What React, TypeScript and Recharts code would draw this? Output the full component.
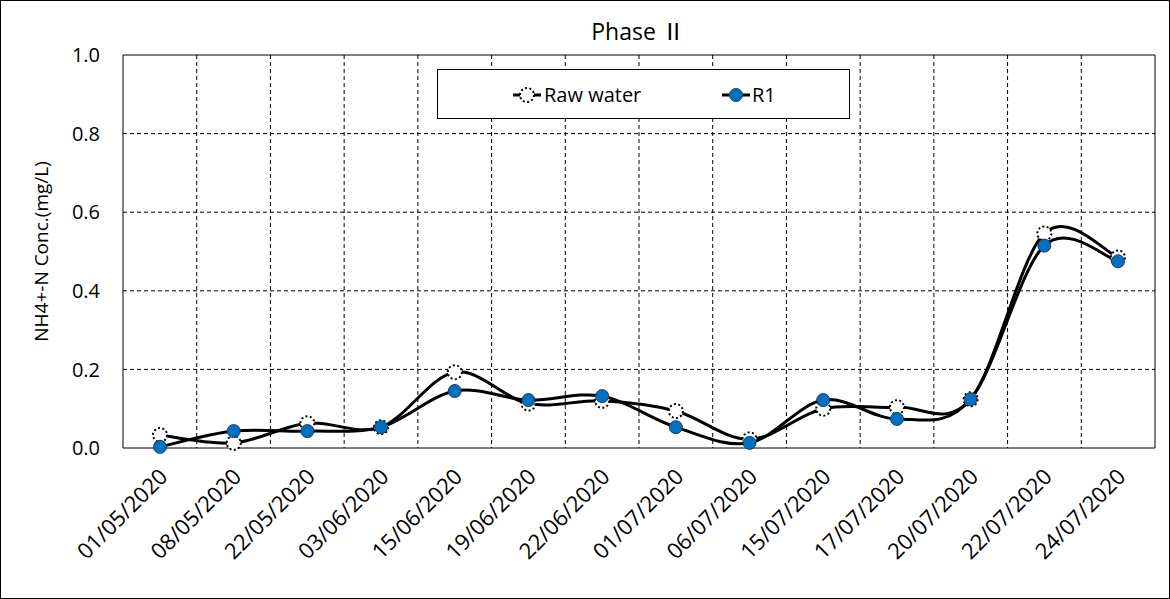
import React from 'react'
import {
  LineChart, Line, XAxis, YAxis, CartesianGrid, Legend,
} from 'recharts'

// ==================== Data ====================

const DATES = [
  '01/05/2020', '08/05/2020', '22/05/2020', '03/06/2020', '15/06/2020',
  '19/06/2020', '22/06/2020', '01/07/2020', '06/07/2020', '15/07/2020',
  '17/07/2020', '20/07/2020', '22/07/2020', '24/07/2020',
]
const RAW_WATER = [0.033, 0.013, 0.063, 0.053, 0.193, 0.113, 0.12, 0.094, 0.022, 0.1, 0.104, 0.124, 0.546, 0.485]
const R1 = [0.003, 0.043, 0.043, 0.053, 0.145, 0.122, 0.132, 0.053, 0.013, 0.122, 0.074, 0.124, 0.515, 0.475]
const Y_TICKS = [0, 0.2, 0.4, 0.6, 0.8, 1.0]

const chartData = DATES.map((date, i) => ({ date, raw: RAW_WATER[i], r1: R1[i] }))

const FONT = '"Open Sans", "Noto Sans CJK SC", sans-serif'
const BLUE = '#0070C0'

// ==================== Excel-like smoothing ====================

// Catmull-Rom style bezier, similar to Excel's "smoothed line".
function excelSmooth(context: any) {
  let pts: number[][] = []
  return {
    areaStart() {},
    areaEnd() {},
    lineStart() { pts = [] },
    point(x: number, y: number) { pts.push([+x, +y]) },
    lineEnd() {
      if (pts.length === 0) return
      context.moveTo(pts[0][0], pts[0][1])
      for (let i = 0; i < pts.length - 1; i++) {
        const p0 = pts[i - 1] ?? pts[i]
        const p1 = pts[i]
        const p2 = pts[i + 1]
        const p3 = pts[i + 2] ?? pts[i + 1]
        context.bezierCurveTo(
          p1[0] + (p2[0] - p0[0]) / 6, p1[1] + (p2[1] - p0[1]) / 6,
          p2[0] - (p3[0] - p1[0]) / 6, p2[1] - (p3[1] - p1[1]) / 6,
          p2[0], p2[1],
        )
      }
    },
  }
}

// ==================== Markers ====================

function RawDot({ cx, cy }: any) {
  if (cx == null || cy == null) return null
  return <circle cx={cx} cy={cy} r={7} fill="#fff" stroke="#000" strokeWidth={2} strokeDasharray="2 2.4" />
}

function R1Dot({ cx, cy }: any) {
  if (cx == null || cy == null) return null
  return <circle cx={cx} cy={cy} r={6.5} fill={BLUE} stroke="#1f3a5f" strokeWidth={1} />
}

function DateTick({ x, y, payload }: any) {
  const px = x + 9
  const py = y + 22
  return (
    <text
      x={px}
      y={py}
      transform={`rotate(-45, ${px}, ${py})`}
      textAnchor="end"
      fontSize={22}
      fontFamily={FONT}
      fill="#000"
    >
      {payload.value}
    </text>
  )
}

function LegendBox() {
  return (
    <div style={{
      width: 413, height: 50, boxSizing: 'border-box', border: '1px solid #000',
      background: '#fff', position: 'relative',
    }}>
      <svg width={411} height={48} style={{ position: 'absolute', left: 0, top: 0 }}>
        <line x1={75} y1={25} x2={103} y2={25} stroke="#000" strokeWidth={3} />
        <circle cx={89} cy={25} r={7} fill="#fff" stroke="#000" strokeWidth={2} strokeDasharray="2 2.4" />
        <text x={106} y={32} fontSize={20} fontFamily={FONT}>Raw water</text>
        <line x1={284} y1={25} x2={312} y2={25} stroke="#000" strokeWidth={3} />
        <circle cx={298} cy={25} r={6.5} fill={BLUE} stroke="#1f3a5f" strokeWidth={1} />
        <text x={314} y={32} fontSize={20} fontFamily={FONT}>R1</text>
      </svg>
    </div>
  )
}

// plot-area edges / category boundaries, from the chart's own offset
const boundaries = ({ offset }: any) =>
  DATES.slice(1).map((_, i) => offset.left + ((i + 1) * offset.width) / DATES.length)
const edges = ({ offset }: any) => [offset.left, offset.left + offset.width]

// ==================== Component ====================

export default function App() {
  return (
    <div style={{
      position: 'absolute', left: 0, top: 0, width: 1170, height: 599,
      boxSizing: 'border-box', border: '1px solid #000', background: '#fff',
    }}>
      <div style={{
        position: 'absolute', left: 537, top: 12, width: 200, textAlign: 'center',
        fontFamily: FONT, fontSize: 23, color: '#000',
      }}>
        Phase Ⅱ
      </div>
      <LineChart
        width={1168}
        height={597}
        data={chartData}
        margin={{ top: 54, right: 14, bottom: 8, left: 0 }}
      >
        <CartesianGrid
          stroke="#000"
          strokeDasharray="4 3"
          horizontalValues={[0.2, 0.4, 0.6, 0.8]}
          verticalCoordinatesGenerator={boundaries}
        />
        <CartesianGrid
          stroke="#000"
          horizontalValues={[0, 1]}
          verticalCoordinatesGenerator={edges}
        />
        <XAxis
          dataKey="date"
          interval={0}
          height={142}
          padding={{ left: 37, right: 37 }}
          axisLine={false}
          tickLine={false}
          tick={<DateTick />}
        />
        <YAxis
          domain={[0, 1]}
          ticks={Y_TICKS}
          width={122}
          axisLine={false}
          tickLine={false}
          tickMargin={17}
          tickFormatter={(v: number) => v.toFixed(1)}
          tick={{ fontSize: 20, fill: '#000', fontFamily: FONT }}
          label={{
            value: 'NH4+-N Conc.(mg/L)', angle: -90, position: 'center', dx: -21,
            style: { fontSize: 19, fill: '#000', fontFamily: FONT },
          }}
        />
        <Legend
          layout="horizontal"
          verticalAlign="middle"
          align="center"
          content={() => <LegendBox />}
          wrapperStyle={{ position: 'absolute', left: 436, top: 68, width: 413, height: 50 }}
        />
        <Line
          dataKey="raw"
          name="Raw water"
          type={excelSmooth as any}
          stroke="#000"
          strokeWidth={3}
          dot={<RawDot />}
          activeDot={false}
          isAnimationActive={false}
        />
        <Line
          dataKey="r1"
          name="R1"
          type={excelSmooth as any}
          stroke="#000"
          strokeWidth={3}
          dot={<R1Dot />}
          activeDot={false}
          isAnimationActive={false}
        />
      </LineChart>
    </div>
  )
}
